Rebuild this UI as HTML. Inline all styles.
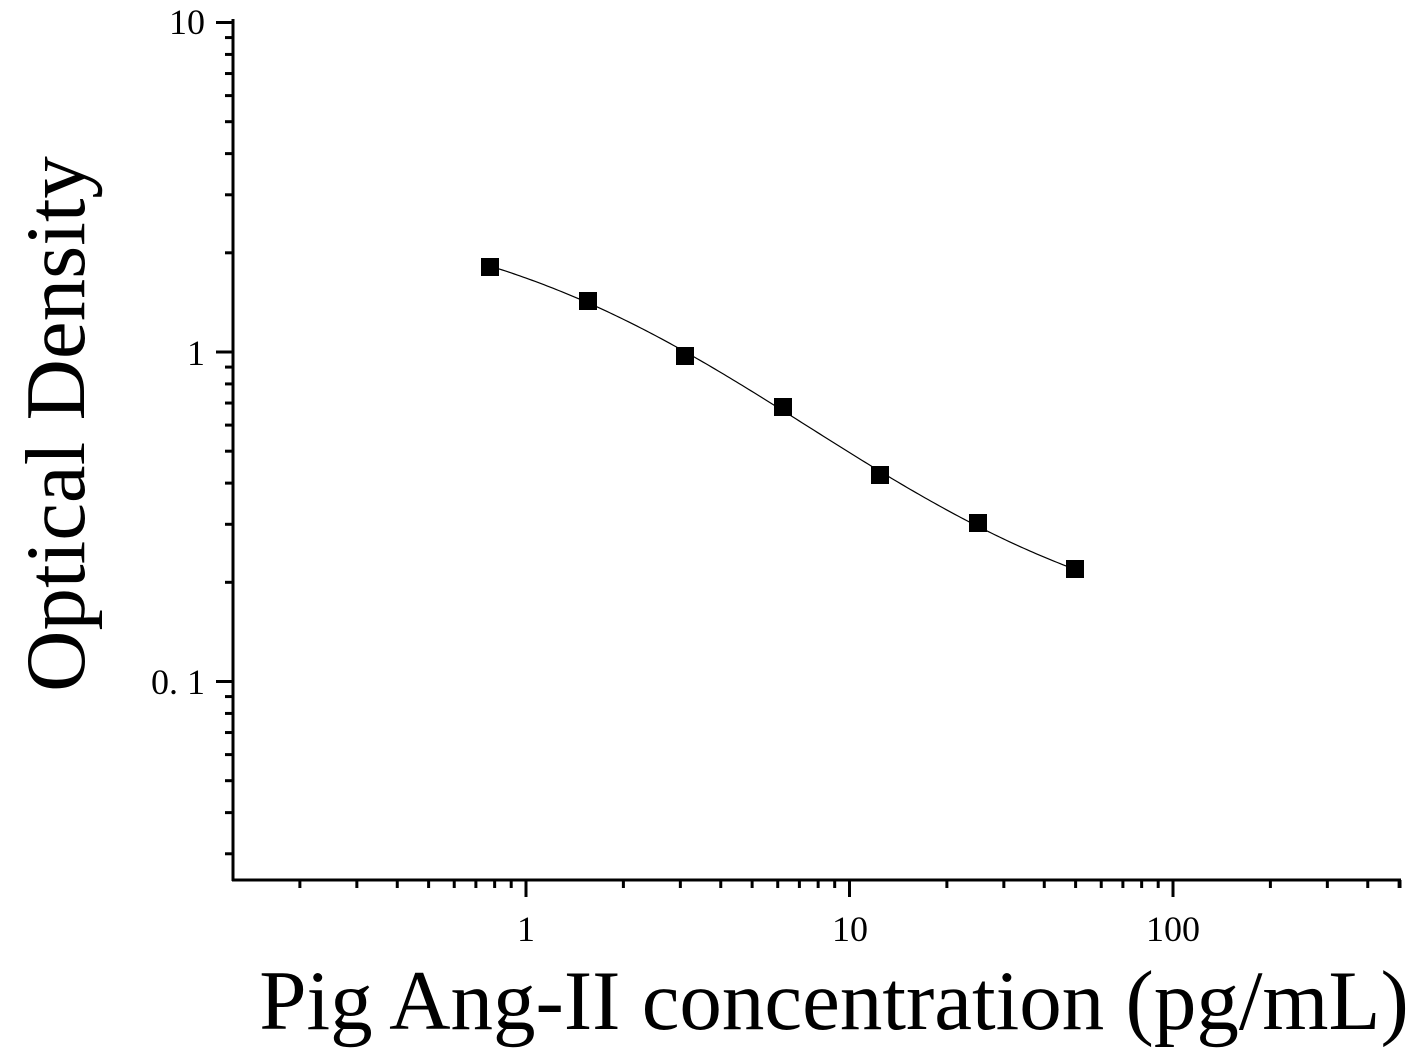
<!DOCTYPE html>
<html><head><meta charset="utf-8"><style>
html,body{margin:0;padding:0;background:#fff;width:1413px;height:1051px;overflow:hidden}
svg{display:block}
text{font-family:"Liberation Serif",serif;fill:#000}
</style></head><body>
<svg id="s" width="1413" height="1051" viewBox="0 0 1413 1051" xmlns="http://www.w3.org/2000/svg">
<g id="g" stroke="#000" stroke-width="3" fill="none"></g>
<text x="526" y="941" font-size="36" text-anchor="middle">1</text>
<text x="850" y="941" font-size="36" text-anchor="middle">10</text>
<text x="1173" y="941" font-size="36" text-anchor="middle">100</text>
<text x="205" y="34" font-size="36" text-anchor="end">10</text>
<text x="205" y="365" font-size="36" text-anchor="end">1</text>
<text x="205" y="694" font-size="36" text-anchor="end">0. 1</text>
<text transform="translate(84,424) rotate(-90)" font-size="85" text-anchor="middle">Optical Density</text>
<text x="834" y="1029" font-size="85" text-anchor="middle">Pig Ang-II concentration (pg/mL)</text>
</svg>
<script>
var g=document.getElementById('g'),NS='http://www.w3.org/2000/svg';
function L(x1,y1,x2,y2,w){var l=document.createElementNS(NS,'line');l.setAttribute('x1',x1);l.setAttribute('y1',y1);l.setAttribute('x2',x2);l.setAttribute('y2',y2);if(w)l.setAttribute('stroke-width',w);g.appendChild(l);}
function X(v){return 526+Math.log10(v)*323.5;}
function Y(v){return 352-Math.log10(v)*329.5;}
L(233,19,233,881);L(232,880,1401,880);
for(var d=-2;d<=1;d++)for(var m=1;m<=9;m++){var v=m*Math.pow(10,d);var y=Y(v);if(y<20||y>878)continue;L(m==1?216:225,y,233,y);}
for(var d=-1;d<=2;d++)for(var m=1;m<=9;m++){var v=m*Math.pow(10,d);var x=X(v);if(x<236||x>1402)continue;L(x,880,x,m==1?897:888);}
L(1400,880,1400,888);
var px=[490,588,685,783,880,978,1075],py=[267,301,356,407,475,523,569];
// fit 4PL in pixel space: y(u)=D+(A-D)/(1+exp(b*(u-c)))
var best=1e18,bp=null;
for(var A=180;A<=270;A+=3)for(var D=560;D<=700;D+=4)for(var c=600;c<=1000;c+=8)for(var b=0.002;b<=0.02;b+=0.0006){
var e=0;for(var i=0;i<7;i++){var f=A+(D-A)/(1+Math.exp(-b*(px[i]-c)));var r=f-py[i];e+=r*r;if(e>best)break;}
if(e<best){best=e;bp=[A,D,c,b];}}
var d='';for(var u=490;u<=1075;u+=3){var f=bp[0]+(bp[1]-bp[0])/(1+Math.exp(-bp[3]*(u-bp[2])));d+=(d?' L':'M')+u+' '+f.toFixed(2);}
var pa=document.createElementNS(NS,'path');pa.setAttribute('d',d);pa.setAttribute('stroke-width','1.2');g.appendChild(pa);
for(var i=0;i<7;i++){var r=document.createElementNS(NS,'rect');r.setAttribute('x',px[i]-9);r.setAttribute('y',py[i]-9);r.setAttribute('width',18);r.setAttribute('height',18);r.setAttribute('fill','#000');r.setAttribute('stroke','none');g.appendChild(r);}
</script>
</body></html>
